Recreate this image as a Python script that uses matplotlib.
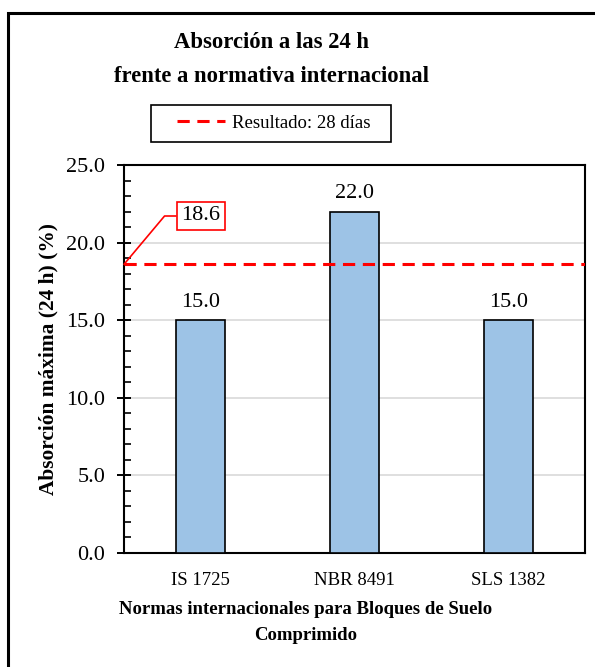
import matplotlib
matplotlib.use("Agg")
import matplotlib.pyplot as plt
from matplotlib.patches import Rectangle
from matplotlib.ticker import MultipleLocator, FormatStrFormatter

# datos
normas = ["IS 1725", "NBR 8491", "SLS 1382"]
absorcion_max = [15.0, 22.0, 15.0]
resultado_28d = 18.6

plt.rcParams['font.family'] = ['Liberation Serif', 'DejaVu Serif']

W, H = 595, 667
fig = plt.figure(figsize=(W / 100, H / 100), dpi=100)

def fx(px):
    return px / W

def fy(py):
    return 1 - py / H

# marco del grafico (recortado a la derecha y abajo)
fig.patches.append(Rectangle((fx(8), -0.2), 2, fy(13) + 0.2, transform=fig.transFigure,
                             fill=False, edgecolor='black', linewidth=2.2))

ax = fig.add_axes([fx(124), fy(553), fx(585) - fx(124), fy(165) - fy(553)])

x = range(len(normas))
bars = ax.bar(x, absorcion_max, width=0.32, color='#9dc3e6', edgecolor='black',
              linewidth=1.2, zorder=3)
for b, v in zip(bars, absorcion_max):
    ax.annotate(f"{v:.1f}", (b.get_x() + b.get_width() / 2, v), xytext=(0, 6),
                textcoords='offset points', ha='center', va='bottom', fontsize=16)

ax.axhline(resultado_28d, color='red', linestyle=(0, (4, 2.5)), linewidth=2.2,
           zorder=4, label='Resultado: 28 días')

ax.set_xlim(-0.5, 2.5)
ax.set_ylim(0, 25)
ax.set_xticks(list(x))
ax.set_xticklabels(normas, fontsize=13.5)
ax.yaxis.set_major_locator(MultipleLocator(5))
ax.yaxis.set_minor_locator(MultipleLocator(1))
ax.yaxis.set_major_formatter(FormatStrFormatter('%.1f'))
ax.tick_params(axis='y', which='major', direction='inout', length=10, width=1.4,
               labelsize=16, pad=8.5)
ax.tick_params(axis='y', which='minor', direction='in', length=5, width=1.2)
ax.tick_params(axis='x', length=0, pad=14)
ax.grid(axis='y', color='#d9d9d9', linewidth=1.2, zorder=0)
for s in ax.spines.values():
    s.set_linewidth(1.5)

# etiqueta del valor 18.6
ax.annotate(f"{resultado_28d}", xy=(-0.5, resultado_28d), xycoords='data',
            xytext=(fx(201), fy(216)), textcoords='figure fraction',
            ha='center', va='center', fontsize=16,
            bbox=dict(boxstyle='square,pad=0.22', fc='white', ec='red', lw=1.2),
            arrowprops=dict(arrowstyle='-', color='red', lw=1.2,
                            connectionstyle='angle,angleA=0,angleB=50,rad=0',
                            shrinkA=0, shrinkB=0),
            zorder=6)

fig.text(fx(271), fy(43), "Absorción a las 24 h", ha='center', va='center',
         fontsize=16.3, fontweight='bold')
fig.text(fx(271), fy(76), "frente a normativa internacional", ha='center', va='center',
         fontsize=16.3, fontweight='bold')

# leyenda: caja dibujada aparte
fig.patches.append(Rectangle((fx(151), fy(142)), fx(391) - fx(151), fy(105) - fy(142),
                             transform=fig.transFigure, fill=False,
                             edgecolor='black', linewidth=1.2))
fig.legend(loc='center', bbox_to_anchor=(fx(274), fy(123)), fontsize=13.5,
           frameon=False, handlelength=2.56, borderpad=0.2, handletextpad=0.37)

fig.text(fx(48), fy(359), "Absorción máxima (24 h) (%)", rotation=90, ha='center',
         va='center', fontsize=15.4, fontweight='bold')
fig.text(fx(306), fy(609), "Normas internacionales para Bloques de Suelo", ha='center',
         va='center', fontsize=13.5, fontweight='bold')
fig.text(fx(306), fy(636), "Comprimido", ha='center', va='center', fontsize=13.5,
         fontweight='bold')

fig.savefig("out.png", dpi=100)
